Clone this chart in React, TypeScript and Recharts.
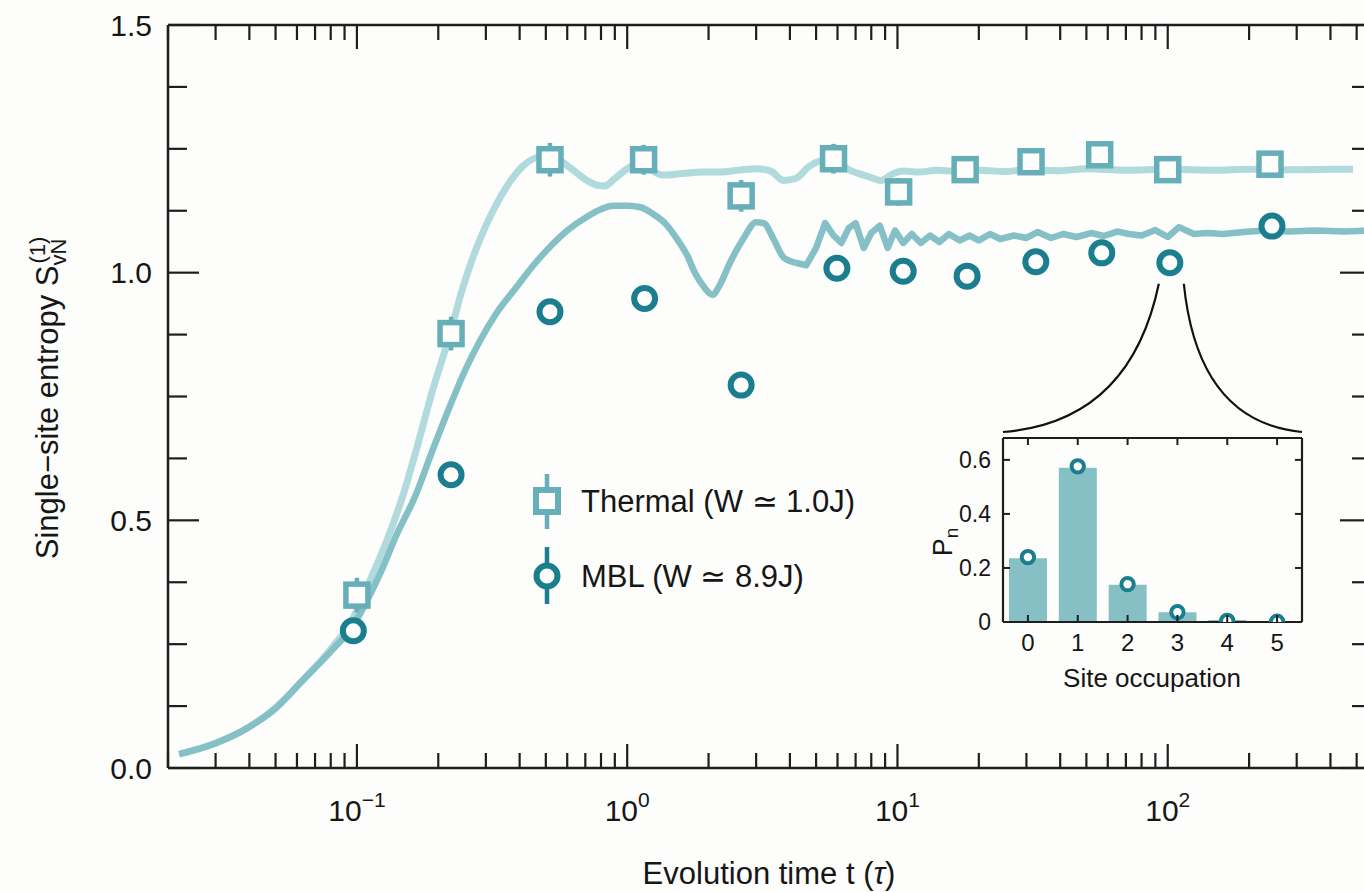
import React from "react";
import { ComposedChart, Line, Scatter, Bar, XAxis, YAxis, ErrorBar } from "recharts";

// ---- measured points (time in units of tau, entropy) ----
const thermalT = [0.1, 0.223, 0.518, 1.15, 2.64, 5.8, 10.1, 17.8, 31.2, 56, 100, 239];
const thermalS = [0.349, 0.877, 1.228, 1.228, 1.155, 1.23, 1.163, 1.208, 1.224, 1.238, 1.208, 1.219];
const thermalErr = [0.035, 0.034, 0.034, 0.03, 0.032, 0.03, 0.028, 0.026, 0.026, 0.026, 0.026, 0.026];

const mblT = [0.097, 0.223, 0.518, 1.16, 2.64, 5.97, 10.5, 18.1, 32.5, 57, 101.8, 243];
const mblS = [0.277, 0.592, 0.921, 0.948, 0.773, 1.009, 1.003, 0.993, 1.022, 1.04, 1.02, 1.094];
const mblErr = [0.015, 0.015, 0.015, 0.015, 0.015, 0.015, 0.015, 0.015, 0.015, 0.015, 0.015, 0.015];

// ---- theory curves ----
const thermalCurveT = [
  0.022, 0.03, 0.04, 0.05, 0.0625, 0.08, 0.096, 0.11, 0.13, 0.15, 0.165, 0.19, 0.221, 0.245, 0.27, 0.3,
  0.332, 0.37, 0.411, 0.46, 0.513, 0.56, 0.614, 0.67, 0.715, 0.77, 0.826, 0.9, 1.0, 1.14, 1.25, 1.355,
  1.6, 1.9, 2.18, 2.6, 3.0, 3.4, 3.8, 4.2, 4.7, 5.3, 5.9, 6.5, 7.2, 8.0, 8.7, 9.5, 10.5, 12, 14, 17,
  20, 25, 30, 40, 50, 70, 100, 150, 200, 300, 400, 485,
];
const thermalCurveS = [
  0.028, 0.05, 0.083, 0.122, 0.175, 0.24, 0.299, 0.37, 0.464, 0.56, 0.638, 0.76, 0.876, 0.965, 1.034, 1.095,
  1.143, 1.185, 1.215, 1.232, 1.236, 1.228, 1.212, 1.196, 1.185, 1.177, 1.175, 1.19, 1.21, 1.222, 1.205, 1.197,
  1.2, 1.203, 1.203, 1.207, 1.21, 1.205, 1.186, 1.19, 1.214, 1.228, 1.232, 1.21, 1.2, 1.192, 1.186, 1.198, 1.205, 1.203, 1.207, 1.204,
  1.207, 1.204, 1.208, 1.206, 1.21, 1.207, 1.209, 1.207, 1.209, 1.208, 1.209, 1.209,
];

// smooth rise of the MBL curve (drawn with a spline)
const mblRiseT = [
  0.022, 0.03, 0.04, 0.05, 0.0625, 0.08, 0.096, 0.1217, 0.14, 0.165, 0.19, 0.221, 0.25, 0.285, 0.33, 0.387,
  0.45, 0.526, 0.6, 0.715, 0.8, 0.885, 1.0, 1.12, 1.25, 1.39, 1.52, 1.67, 1.78, 1.89, 2.0, 2.07, 2.2, 2.4,
  2.7, 3.0, 3.2, 3.5, 3.8, 4.2,
];
const mblRiseS = [
  0.028, 0.05, 0.083, 0.12, 0.175, 0.235, 0.285, 0.392, 0.47, 0.551, 0.64, 0.731, 0.8, 0.862, 0.92, 0.969,
  1.015, 1.056, 1.085, 1.114, 1.128, 1.135, 1.135, 1.132, 1.118, 1.098, 1.07, 1.034, 1.0, 0.977, 0.96, 0.955, 0.975, 1.02,
  1.07, 1.102, 1.1, 1.065, 1.03, 1.02,
];
// jagged late-time part of the MBL curve (straight segments)
const mblTailT = [
  4.2, 4.6, 5.0, 5.4, 5.8, 6.2, 6.6, 7.0, 7.5, 8.0, 8.6, 9.2, 9.8, 10.5, 11.3,
  12.2, 13.2, 14.3, 15.5, 17, 18.5, 20, 22, 24, 27, 30, 33, 37, 41, 46, 52, 58, 65, 72, 80, 90, 100, 110,
  125, 140, 160, 190, 230, 280, 350, 450, 565,
];
const mblTailS = [
  1.02, 1.015, 1.05, 1.1, 1.075, 1.06, 1.09, 1.1, 1.05, 1.08, 1.095, 1.05, 1.085, 1.06, 1.078,
  1.06, 1.075, 1.062, 1.078, 1.065, 1.075, 1.065, 1.078, 1.068, 1.075, 1.07, 1.082, 1.07, 1.078, 1.072, 1.08, 1.074, 1.083, 1.078, 1.075, 1.086, 1.072, 1.092,
  1.078, 1.08, 1.078, 1.082, 1.085, 1.083, 1.085, 1.083, 1.085,
];

// ---- axes ----
const X_DOMAIN: [number, number] = [0.02, 565];
const xMajorTicks = [0.1, 1, 10, 100];
const xTicks = [
  0.02, 0.03, 0.04, 0.05, 0.06, 0.07, 0.08, 0.09, 0.1, 0.2, 0.3, 0.4, 0.5, 0.6, 0.7, 0.8, 0.9, 1,
  2, 3, 4, 5, 6, 7, 8, 9, 10, 20, 30, 40, 50, 60, 70, 80, 90, 100, 200, 300, 400, 500,
];
const yTicks = [0, 0.125, 0.25, 0.375, 0.5, 0.625, 0.75, 0.875, 1, 1.125, 1.25, 1.375, 1.5];

// ---- inset: site occupation at t = 100 tau ----
const occupation = [0, 1, 2, 3, 4, 5];
const occBars = [0.236, 0.571, 0.138, 0.036, 0.007, 0.002];
const occPoints = [0.24, 0.576, 0.14, 0.036, 0.004, 0.001];
const insetYTicks = [0, 0.2, 0.4, 0.6];

const thermalPoints = thermalT.map((t, i) => ({ t, s: thermalS[i], err: thermalErr[i] }));
const mblPoints = mblT.map((t, i) => ({ t, s: mblS[i], err: mblErr[i] }));
const thermalCurve = thermalCurveT.map((t, i) => ({ t, s: thermalCurveS[i] }));
const mblRise = mblRiseT.map((t, i) => ({ t, s: mblRiseS[i] }));
const mblTail = mblTailT.map((t, i) => ({ t, s: mblTailS[i] }));
const occData = occupation.map((n, i) => ({ n, bar: occBars[i], pt: occPoints[i] }));

const FONT = "'Liberation Sans', Arial, Helvetica, sans-serif";
const BG = "#fdfdfb";
const AX = "#1e1e1e";
const TXT = "#161616";
const SQ = "#66afb8";
const CI = "#1b7e8e";
const THERMAL_LINE = "#b1dadc";
const MBL_LINE = "#84c0c6";
const BAR = "#86c0c5";

// plot box of main panel (used for annotation overlay)
const PL = 168;
const PR = 1371;
const PT = 25;
const PB = 768;
const xPx = (t: number) =>
  PL + ((Math.log10(t) - Math.log10(X_DOMAIN[0])) / (Math.log10(X_DOMAIN[1]) - Math.log10(X_DOMAIN[0]))) * (PR - PL);
const yPx = (s: number) => PB - (s / 1.5) * (PB - PT);

const isMajorY = (v: number) => Math.abs(v * 2 - Math.round(v * 2)) < 1e-6;

const BottomTick = (p: any) => {
  const v = p.payload.value;
  const major = xMajorTicks.some((m) => Math.abs(m - v) < 1e-9);
  const e = Math.round(Math.log10(v));
  return (
    <g>
      <line x1={p.x} x2={p.x} y1={p.y} y2={p.y - (major ? 24 : 15)} stroke={AX} strokeWidth={2.2} />
      {major && (
        <text x={p.x} y={p.y + 53} textAnchor="middle" fontSize={30} fill={TXT} fontFamily={FONT}>
          10
          <tspan dy={-14} fontSize={21}>
            {e < 0 ? "\u2212" + Math.abs(e) : String(e)}
          </tspan>
        </text>
      )}
    </g>
  );
};

const TopTick = (p: any) => {
  const v = p.payload.value;
  const major = xMajorTicks.some((m) => Math.abs(m - v) < 1e-9);
  return <line x1={p.x} x2={p.x} y1={p.y} y2={p.y + (major ? 24 : 15)} stroke={AX} strokeWidth={2.2} />;
};

const LeftTick = (p: any) => {
  const v = p.payload.value;
  const major = isMajorY(v);
  return (
    <g>
      <line x1={p.x} x2={p.x + (major ? 31 : 19)} y1={p.y} y2={p.y} stroke={AX} strokeWidth={2.2} />
      {major && (
        <text x={p.x - 16} y={p.y} dy="0.36em" textAnchor="end" fontSize={30} fill={TXT} fontFamily={FONT}>
          {v.toFixed(1)}
        </text>
      )}
    </g>
  );
};

const RightTick = (p: any) => {
  const major = isMajorY(p.payload.value);
  return <line x1={p.x} x2={p.x - (major ? 31 : 19)} y1={p.y} y2={p.y} stroke={AX} strokeWidth={2.2} />;
};

const SquareMarker = (p: any) => (
  <rect x={p.cx - 11} y={p.cy - 11} width={22} height={22} fill={BG} stroke={SQ} strokeWidth={5.5} />
);
const CircleMarker = (p: any) => <circle cx={p.cx} cy={p.cy} r={10.5} fill={BG} stroke={CI} strokeWidth={6} />;

// inset ticks
const InsetBottomTick = (p: any) => (
  <g>
    <line x1={p.x} x2={p.x} y1={p.y} y2={p.y - 7} stroke={AX} strokeWidth={2} />
    <text x={p.x} y={p.y + 29} textAnchor="middle" fontSize={24} fill={TXT} fontFamily={FONT}>
      {p.payload.value}
    </text>
  </g>
);
const InsetTopTick = (p: any) => <line x1={p.x} x2={p.x} y1={p.y} y2={p.y + 7} stroke={AX} strokeWidth={2} />;
const InsetLeftTick = (p: any) => (
  <g>
    <line x1={p.x} x2={p.x + 7} y1={p.y} y2={p.y} stroke={AX} strokeWidth={2} />
    <text x={p.x - 12} y={p.y} dy="0.36em" textAnchor="end" fontSize={23} fill={TXT} fontFamily={FONT}>
      {p.payload.value === 0 ? "0" : p.payload.value.toFixed(1)}
    </text>
  </g>
);
const InsetRightTick = (p: any) => <line x1={p.x} x2={p.x - 7} y1={p.y} y2={p.y} stroke={AX} strokeWidth={2} />;

function Inset() {
  return (
    <div style={{ position: "absolute", left: 900, top: 420 }}>
      <ComposedChart width={420} height={290} data={occData} margin={{ top: 16, right: 16, bottom: 48, left: 53 }} barCategoryGap="12%">
        <XAxis dataKey="n" type="category" height={40} tickSize={0} tickMargin={0} tickLine={false} interval={0}
          tick={<InsetBottomTick />} axisLine={{ stroke: AX, strokeWidth: 2.2 }} />
        <XAxis xAxisId="top" dataKey="n" type="category" orientation="top" height={2} tickSize={0} tickMargin={0}
          tickLine={false} interval={0} tick={<InsetTopTick />} axisLine={{ stroke: AX, strokeWidth: 2.2 }} />
        <YAxis type="number" domain={[0, 0.681]} ticks={insetYTicks} width={50} tickSize={0} tickMargin={0}
          tickLine={false} interval={0} tick={<InsetLeftTick />} axisLine={{ stroke: AX, strokeWidth: 2.2 }} allowDataOverflow />
        <YAxis yAxisId="right" orientation="right" type="number" domain={[0, 0.681]} ticks={insetYTicks} width={2}
          tickSize={0} tickMargin={0} tickLine={false} interval={0} tick={<InsetRightTick />}
          axisLine={{ stroke: AX, strokeWidth: 2.2 }} allowDataOverflow />
        <Bar dataKey="bar" fill={BAR} isAnimationActive={false} />
        <Line dataKey="pt" stroke="none" isAnimationActive={false}
          dot={{ r: 6.2, fill: BG, stroke: CI, strokeWidth: 4 }} activeDot={false} />
      </ComposedChart>
    </div>
  );
}

export default function App() {
  const cx = xPx(mblT[10]);
  const cy = yPx(mblS[10]);
  const insetL = 1003;
  const insetR = 1302;
  const insetTop = 432;
  return (
    <div style={{ position: "absolute", left: 0, top: 0, width: 1364, height: 892, overflow: "hidden", background: BG, fontFamily: FONT }}>
      <ComposedChart width={1400} height={892} margin={{ top: 23, right: 27, bottom: 64, left: 108 }}>
        <XAxis dataKey="t" type="number" scale="log" domain={X_DOMAIN} allowDataOverflow ticks={xTicks} interval={0}
          height={60} tickSize={0} tickMargin={0} tickLine={false} tick={<BottomTick />}
          axisLine={{ stroke: AX, strokeWidth: 2.5 }} />
        <XAxis xAxisId="top" orientation="top" dataKey="t" type="number" scale="log" domain={X_DOMAIN} allowDataOverflow
          ticks={xTicks} interval={0} height={2} tickSize={0} tickMargin={0} tickLine={false} tick={<TopTick />}
          axisLine={{ stroke: AX, strokeWidth: 2.5 }} />
        <YAxis type="number" domain={[0, 1.5]} ticks={yTicks} interval={0} width={60} tickSize={0} tickMargin={0}
          tickLine={false} tick={<LeftTick />} axisLine={{ stroke: AX, strokeWidth: 2.5 }} allowDataOverflow />
        <YAxis yAxisId="right" orientation="right" type="number" domain={[0, 1.5]} ticks={yTicks} interval={0} width={2}
          tickSize={0} tickMargin={0} tickLine={false} tick={<RightTick />} axisLine={false} allowDataOverflow />
        <Line data={thermalCurve} dataKey="s" type="monotone" stroke={THERMAL_LINE} strokeWidth={7} dot={false}
          activeDot={false} isAnimationActive={false} />
        <Line data={mblRise} dataKey="s" type="monotone" stroke={MBL_LINE} strokeWidth={6.5} dot={false}
          activeDot={false} isAnimationActive={false} />
        <Line data={mblTail} dataKey="s" type="linear" stroke={MBL_LINE} strokeWidth={6.5} strokeLinejoin="round" dot={false}
          activeDot={false} isAnimationActive={false} />
        <Scatter data={thermalPoints} dataKey="s" shape={(p: any) => <SquareMarker {...p} />} isAnimationActive={false}>
          <ErrorBar dataKey="err" direction="y" width={0} stroke={SQ} strokeWidth={4.5} />
        </Scatter>
        <Scatter data={mblPoints} dataKey="s" shape={(p: any) => <CircleMarker {...p} />} isAnimationActive={false}>
          <ErrorBar dataKey="err" direction="y" width={0} stroke={CI} strokeWidth={4.5} />
        </Scatter>
      </ComposedChart>

      <Inset />

      <svg width={1364} height={892} style={{ position: "absolute", left: 0, top: 0, pointerEvents: "none" }} fontFamily={FONT}>
        {/* zoom connectors from the t = 100 point to the inset */}
        <path d={`M ${insetL} ${insetTop} Q ${cx - 40} ${insetTop - 10} ${cx - 11} ${cy + 21}`} fill="none" stroke="#111" strokeWidth={2.2} />
        <path d={`M ${insetR} ${insetTop} Q ${cx + 28} ${insetTop - 10} ${cx + 14} ${cy + 21}`} fill="none" stroke="#111" strokeWidth={2.2} />

        {/* legend */}
        <line x1={547} x2={547} y1={474} y2={529} stroke={SQ} strokeWidth={4.5} />
        <rect x={536} y={490} width={22} height={22} fill={BG} stroke={SQ} strokeWidth={6} />
        <text x={581} y={512} fontSize={31} fill={TXT}>Thermal (W ≃ 1.0J)</text>
        <line x1={547} x2={547} y1={547} y2={604} stroke={CI} strokeWidth={4.5} />
        <circle cx={547} cy={576} r={10.5} fill={BG} stroke={CI} strokeWidth={6} />
        <text x={581} y={587} fontSize={31} fill={TXT}>MBL (W ≃ 8.9J)</text>

        {/* axis titles */}
        <text x={769} y={884} textAnchor="middle" fontSize={31} fill={TXT}>
          Evolution time t (<tspan fontStyle="italic">τ</tspan>)
        </text>
        <text transform="rotate(-90)" x={-398} y={58} textAnchor="middle" fontSize={31} fill={TXT}>
          Single−site entropy S
          <tspan dy={8} fontSize={22}>vN</tspan>
          <tspan dx={-25} dy={-21} fontSize={22}>(1)</tspan>
        </text>

        {/* inset titles */}
        <text x={1152} y={687} textAnchor="middle" fontSize={26} fill={TXT}>Site occupation</text>
        <text transform="rotate(-90)" x={-542} y={952} textAnchor="middle" fontSize={27} fill={TXT}>
          P<tspan dy={6} fontSize={19}>n</tspan>
        </text>
      </svg>
    </div>
  );
}
